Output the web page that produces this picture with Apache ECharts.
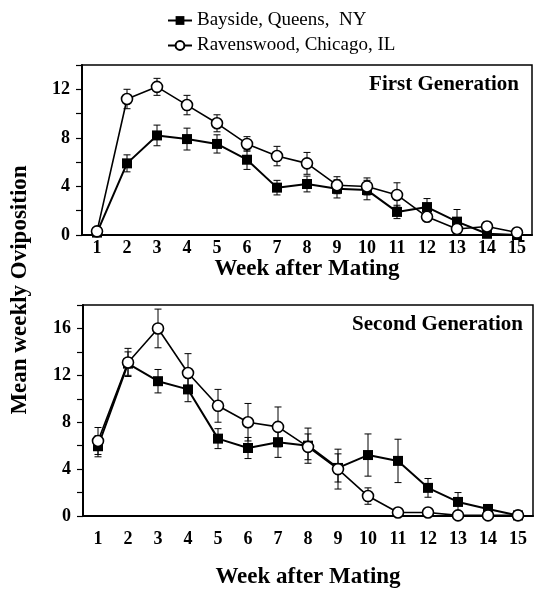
<!DOCTYPE html>
<html><head><meta charset="utf-8">
<script src="https://cdn.jsdelivr.net/npm/echarts@6/dist/echarts.min.js"></script>
<style>html,body{margin:0;padding:0;background:#fff}#c{width:540px;height:590px}</style>
</head><body><div id="c"></div>
<script>
const weeks = ['1','2','3','4','5','6','7','8','9','10','11','12','13','14','15'];
const seriesNames = ['Bayside, Queens,  NY', 'Ravenswood, Chicago, IL'];
// First generation
const bayside1 = [0.2, 5.9, 8.2, 7.9, 7.5, 6.2, 3.9, 4.2, 3.8, 3.7, 1.9, 2.3, 1.1, 0.1, 0.0];
const bayside1Err = [0.1, 0.7, 0.85, 0.9, 0.75, 0.8, 0.6, 0.65, 0.75, 0.8, 0.55, 0.7, 1.0, 0.1, 0.05];
const raven1 = [0.3, 11.2, 12.2, 10.7, 9.2, 7.5, 6.5, 5.9, 4.1, 4.0, 3.3, 1.5, 0.5, 0.7, 0.2];
const raven1Err = [0.1, 0.8, 0.7, 0.8, 0.7, 0.6, 0.8, 0.9, 0.7, 0.7, 1.0, 0.3, 0.3, 0.4, 0.05];
// Second generation
const bayside2 = [5.95, 13.0, 11.5, 10.8, 6.6, 5.8, 6.3, 6.0, 4.1, 5.2, 4.7, 2.4, 1.2, 0.6, 0.05];
const bayside2Err = [0.9, 1.0, 1.0, 1.05, 0.85, 0.9, 1.3, 1.5, 1.2, 1.8, 1.85, 0.8, 0.8, 0.2, 0.05];
const raven2 = [6.4, 13.1, 16.0, 12.2, 9.4, 8.0, 7.6, 5.9, 4.0, 1.7, 0.3, 0.3, 0.05, 0.05, 0.05];
const raven2Err = [1.15, 1.2, 1.65, 1.65, 1.4, 1.6, 1.7, 1.1, 1.7, 0.7, 0.1, 0.1, 0.05, 0.05, 0.05];
const yMax1 = 14, yMax2 = 18, yStep = 2, yLabelStep = 4;
const panelTitles = ['First Generation', 'Second Generation'];
const xTitle = 'Week after Mating';
const yTitle = 'Mean weekly Oviposition';

const FONT = "'Liberation Serif', 'Times New Roman', serif";
const chart = echarts.init(document.getElementById('c'), null, {renderer: 'canvas'});

function errSeries(idx, means, errs) {
  return {
    type: 'custom', xAxisIndex: idx, yAxisIndex: idx, z: 1, silent: true,
    data: means.map((m, i) => [i, Math.max(0, m - errs[i]), m + errs[i]]),
    renderItem: function (params, api) {
      const lo = api.coord([api.value(0), api.value(1)]);
      const hi = api.coord([api.value(0), api.value(2)]);
      const w = 3.5;
      const st = {stroke: '#000', lineWidth: 1};
      return {type: 'group', children: [
        {type: 'line', shape: {x1: lo[0], y1: lo[1], x2: hi[0], y2: hi[1]}, style: st},
        {type: 'line', shape: {x1: lo[0] - w, y1: lo[1], x2: lo[0] + w, y2: lo[1]}, style: st},
        {type: 'line', shape: {x1: hi[0] - w, y1: hi[1], x2: hi[0] + w, y2: hi[1]}, style: st}
      ]};
    }
  };
}
function lineSeries(idx, name, data, isSquare) {
  return {
    type: 'line', name: name, xAxisIndex: idx, yAxisIndex: idx, data: data,
    z: isSquare ? 2 : 3,
    symbol: isSquare ? 'rect' : 'circle',
    symbolSize: isSquare ? 10 : 11,
    showAllSymbol: true,
    lineStyle: {color: '#000', width: isSquare ? 2 : 1.6},
    itemStyle: isSquare ? {color: '#000', borderColor: '#000', borderWidth: 0}
                        : {color: '#fff', borderColor: '#000', borderWidth: 1.6},
    emphasis: {disabled: true},
    animation: false
  };
}
function xAxis(idx, labelMargin, nameGap) {
  return {
    type: 'category', gridIndex: idx, data: weeks, boundaryGap: true,
    axisLine: {lineStyle: {color: '#000', width: 2}},
    axisTick: {inside: true, length: 4, lineStyle: {color: '#000', width: 1}},
    axisLabel: {color: '#000', fontFamily: FONT, fontWeight: 'bold', fontSize: 18, margin: labelMargin, interval: 0},
    splitLine: {show: false},
    name: xTitle, nameLocation: 'middle', nameGap: nameGap,
    nameTextStyle: {color: '#000', fontFamily: FONT, fontWeight: 'bold', fontSize: 23}
  };
}
function yAxis(idx, max) {
  return {
    type: 'value', gridIndex: idx, min: 0, max: max, interval: yStep,
    axisLine: {show: true, lineStyle: {color: '#000', width: 2}},
    axisTick: {show: true, inside: false, length: 6, lineStyle: {color: '#000', width: 1.2}},
    axisLabel: {color: '#000', fontFamily: FONT, fontWeight: 'bold', fontSize: 18, margin: 12,
      formatter: v => (v % yLabelStep === 0 ? String(v) : '')},
    splitLine: {show: false}
  };
}

chart.setOption({
  animation: false,
  backgroundColor: '#fff',
  legend: {
    orient: 'vertical', left: 162, top: 6, itemGap: 6, itemWidth: 24, itemHeight: 11,
    data: seriesNames,
    textStyle: {color: '#000', fontFamily: FONT, fontSize: 19},
    selectedMode: false
  },
  grid: [
    {left: 82, top: 65, width: 450, height: 170, show: true, borderColor: '#000', borderWidth: 1.5, backgroundColor: 'transparent'},
    {left: 83, top: 305, width: 450, height: 218, show: true, borderColor: '#000', borderWidth: 1.5, backgroundColor: 'transparent'}
  ],
  xAxis: [xAxis(0, 4, 22), xAxis(1, 14, 50)],
  yAxis: [yAxis(0, yMax1), yAxis(1, yMax2)],
  graphic: [
    {type: 'text', x: 20, y: 290, rotation: Math.PI / 2,
     style: {text: yTitle, fill: '#000', font: "bold 23px " + FONT, textAlign: 'center', textVerticalAlign: 'middle'}},
    {type: 'text', x: 519, y: 85,
     style: {text: panelTitles[0], fill: '#000', font: "bold 21px " + FONT, textAlign: 'right', textVerticalAlign: 'middle'}},
    {type: 'text', x: 523, y: 325,
     style: {text: panelTitles[1], fill: '#000', font: "bold 21px " + FONT, textAlign: 'right', textVerticalAlign: 'middle'}}
  ],
  series: [
    errSeries(0, bayside1, bayside1Err),
    errSeries(0, raven1, raven1Err),
    lineSeries(0, seriesNames[0], bayside1, true),
    lineSeries(0, seriesNames[1], raven1, false),
    errSeries(1, bayside2, bayside2Err),
    errSeries(1, raven2, raven2Err),
    lineSeries(1, seriesNames[0], bayside2, true),
    lineSeries(1, seriesNames[1], raven2, false)
  ]
});
</script>
</body></html>
